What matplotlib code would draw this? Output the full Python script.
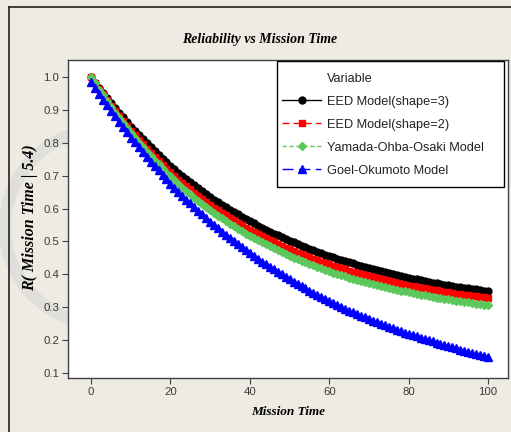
import numpy as np
import matplotlib
matplotlib.use("Agg")
import matplotlib.pyplot as plt
from matplotlib.lines import Line2D
from matplotlib.patches import Circle, Rectangle

# mission time 0..100, one point per unit
mission_time = np.arange(0, 101)

eed_shape3 = [
    1.000, 0.983, 0.967, 0.951, 0.935, 0.920, 0.905, 0.891, 0.877, 0.863,
    0.849, 0.836, 0.823, 0.810, 0.798, 0.786, 0.774, 0.763, 0.752, 0.741,
    0.730, 0.720, 0.709, 0.699, 0.690, 0.680, 0.671, 0.662, 0.653, 0.644,
    0.636, 0.627, 0.619, 0.612, 0.604, 0.596, 0.589, 0.582, 0.575, 0.568,
    0.561, 0.555, 0.548, 0.542, 0.536, 0.530, 0.524, 0.519, 0.513, 0.508,
    0.502, 0.497, 0.492, 0.487, 0.482, 0.478, 0.473, 0.469, 0.464, 0.460,
    0.456, 0.452, 0.448, 0.444, 0.440, 0.436, 0.433, 0.429, 0.426, 0.422,
    0.419, 0.416, 0.413, 0.410, 0.406, 0.404, 0.401, 0.398, 0.395, 0.392,
    0.390, 0.387, 0.385, 0.382, 0.380, 0.378, 0.375, 0.373, 0.371, 0.369,
    0.367, 0.365, 0.363, 0.361, 0.359, 0.357, 0.355, 0.354, 0.352, 0.350,
    0.349]

eed_shape2 = [
    1.000, 0.982, 0.964, 0.947, 0.930, 0.913, 0.897, 0.882, 0.866, 0.851,
    0.837, 0.823, 0.809, 0.795, 0.782, 0.769, 0.757, 0.745, 0.733, 0.721,
    0.710, 0.699, 0.688, 0.678, 0.668, 0.658, 0.648, 0.639, 0.629, 0.620,
    0.612, 0.603, 0.595, 0.587, 0.579, 0.571, 0.564, 0.556, 0.549, 0.542,
    0.535, 0.529, 0.522, 0.516, 0.510, 0.504, 0.498, 0.492, 0.487, 0.481,
    0.476, 0.471, 0.466, 0.461, 0.456, 0.452, 0.447, 0.443, 0.438, 0.434,
    0.430, 0.426, 0.422, 0.418, 0.415, 0.411, 0.407, 0.404, 0.401, 0.397,
    0.394, 0.391, 0.388, 0.385, 0.382, 0.379, 0.377, 0.374, 0.371, 0.369,
    0.366, 0.364, 0.362, 0.359, 0.357, 0.355, 0.353, 0.351, 0.349, 0.347,
    0.345, 0.343, 0.341, 0.339, 0.338, 0.336, 0.334, 0.333, 0.331, 0.330,
    0.328]

yamada = [
    1.000, 0.981, 0.962, 0.944, 0.926, 0.909, 0.892, 0.876, 0.860, 0.845,
    0.829, 0.815, 0.800, 0.786, 0.773, 0.759, 0.746, 0.734, 0.721, 0.709,
    0.698, 0.686, 0.675, 0.664, 0.654, 0.643, 0.633, 0.624, 0.614, 0.605,
    0.596, 0.587, 0.578, 0.570, 0.562, 0.554, 0.546, 0.539, 0.531, 0.524,
    0.517, 0.510, 0.504, 0.497, 0.491, 0.485, 0.479, 0.473, 0.467, 0.462,
    0.456, 0.451, 0.446, 0.441, 0.436, 0.431, 0.427, 0.422, 0.418, 0.414,
    0.410, 0.405, 0.401, 0.398, 0.394, 0.390, 0.387, 0.383, 0.380, 0.376,
    0.373, 0.370, 0.367, 0.364, 0.361, 0.358, 0.356, 0.353, 0.350, 0.348,
    0.345, 0.343, 0.340, 0.338, 0.336, 0.334, 0.332, 0.329, 0.327, 0.325,
    0.324, 0.322, 0.320, 0.318, 0.316, 0.315, 0.313, 0.311, 0.310, 0.308,
    0.307]

goel_okumoto = [
    0.985, 0.967, 0.949, 0.931, 0.914, 0.897, 0.880, 0.864, 0.847, 0.832,
    0.816, 0.801, 0.786, 0.771, 0.757, 0.743, 0.729, 0.716, 0.702, 0.689,
    0.676, 0.664, 0.651, 0.639, 0.627, 0.616, 0.604, 0.593, 0.582, 0.571,
    0.560, 0.550, 0.540, 0.530, 0.520, 0.510, 0.501, 0.491, 0.482, 0.473,
    0.464, 0.456, 0.447, 0.439, 0.431, 0.423, 0.415, 0.407, 0.400, 0.392,
    0.385, 0.378, 0.371, 0.364, 0.357, 0.350, 0.344, 0.337, 0.331, 0.325,
    0.319, 0.313, 0.307, 0.301, 0.296, 0.290, 0.285, 0.279, 0.274, 0.269,
    0.264, 0.259, 0.254, 0.250, 0.245, 0.240, 0.236, 0.232, 0.227, 0.223,
    0.219, 0.215, 0.211, 0.207, 0.203, 0.199, 0.196, 0.192, 0.188, 0.185,
    0.181, 0.178, 0.175, 0.171, 0.168, 0.165, 0.162, 0.159, 0.156, 0.153,
    0.150]

labels = ["EED Model(shape=3)", "EED Model(shape=2)",
          "Yamada-Ohba-Osaki Model", "Goel-Okumoto Model"]
x_ticks = [0, 20, 40, 60, 80, 100]
y_ticks = [0.1, 0.2, 0.3, 0.4, 0.5, 0.6, 0.7, 0.8, 0.9, 1.0]

bg = "#eeebe3"
serif = "Liberation Serif"
sans = "Liberation Sans"

fig = plt.figure(figsize=(5.11, 4.32), dpi=100, facecolor=bg)
ax = fig.add_axes([68 / 511, 1 - 378 / 432, 440 / 511, 318 / 432])
ax.set_facecolor("white")

# faint round watermark on the left margin
fig.patches.append(Circle((1.02, 2.05), 0.97, transform=fig.dpi_scale_trans,
                          fill=False, edgecolor="#d8d8d6", linewidth=9,
                          alpha=0.6, zorder=-5))

# outer frame (top and left edges)
fig.add_artist(Line2D([9 / 511, 1.0], [1 - 7 / 432, 1 - 7 / 432],
                      transform=fig.transFigure, color="#222222", lw=1.2))
fig.add_artist(Line2D([9 / 511, 9 / 511], [0.0, 1 - 7 / 432],
                      transform=fig.transFigure, color="#222222", lw=1.2))

l1, = ax.plot(mission_time, eed_shape3, color="black", lw=1.0,
              marker="o", markersize=5, label=labels[0])
l2, = ax.plot(mission_time, eed_shape2, color="#ff0000", lw=1.0,
              linestyle=(0, (5, 3)), marker="s", markersize=4.5, label=labels[1])
l3, = ax.plot(mission_time, yamada, color="#5cc85c", lw=1.0,
              linestyle=(0, (3, 2)), marker="D", markersize=4.2, label=labels[2])
l4, = ax.plot(mission_time, goel_okumoto, color="#0000ff", lw=1.0,
              linestyle=(0, (8, 4)), marker="^", markersize=6, label=labels[3])

ax.set_xlim(-5.8, 105.0)
ax.set_ylim(0.0848, 1.0517)
ax.set_xticks(x_ticks)
ax.set_yticks(y_ticks)
ax.set_yticklabels([f"{v:.1f}" for v in y_ticks])

for s in ["top", "right", "left", "bottom"]:
    ax.spines[s].set_color("#404040")
    ax.spines[s].set_linewidth(1.0)
ax.tick_params(direction="out", length=4, width=0.8, color="#404040",
               labelcolor="#3a3a3a", labelsize=8.2, pad=2.5)
for t in ax.get_xticklabels() + ax.get_yticklabels():
    t.set_fontfamily(sans)

fig.text(260 / 511, 1 - 40 / 432, "Reliability vs Mission Time",
         ha="center", va="center", fontfamily=serif, fontweight="bold",
         fontstyle="italic", fontsize=10)
fig.text(288 / 511, 1 - 412 / 432, "Mission Time", ha="center", va="center",
         fontfamily=serif, fontweight="bold", fontstyle="italic", fontsize=9.5)
fig.text(30 / 511, 1 - 218 / 432, "R( Mission Time | 5.4)", ha="center",
         va="center", rotation=90, fontfamily=serif, fontweight="bold",
         fontstyle="italic", fontsize=11.5)

# legend box drawn separately so its size matches the original
ax.add_patch(Rectangle((0.475, 0.6006), 0.516, 0.3964, transform=ax.transAxes,
                       facecolor="white", edgecolor="black", lw=1.0,
                       zorder=4.5))
title_handle = Line2D([], [], linestyle="none")
leg = ax.legend([title_handle, l1, l2, l3, l4], ["Variable"] + labels,
                loc="upper left", bbox_to_anchor=(0.486, 0.96),
                borderaxespad=0, borderpad=0, frameon=False,
                prop={"family": sans, "size": 9.2},
                handlelength=3.1, handletextpad=0.45, labelspacing=0.86)
for t in leg.get_texts():
    t.set_color("#222222")

fig.savefig("out.png", dpi=100, facecolor=bg)
